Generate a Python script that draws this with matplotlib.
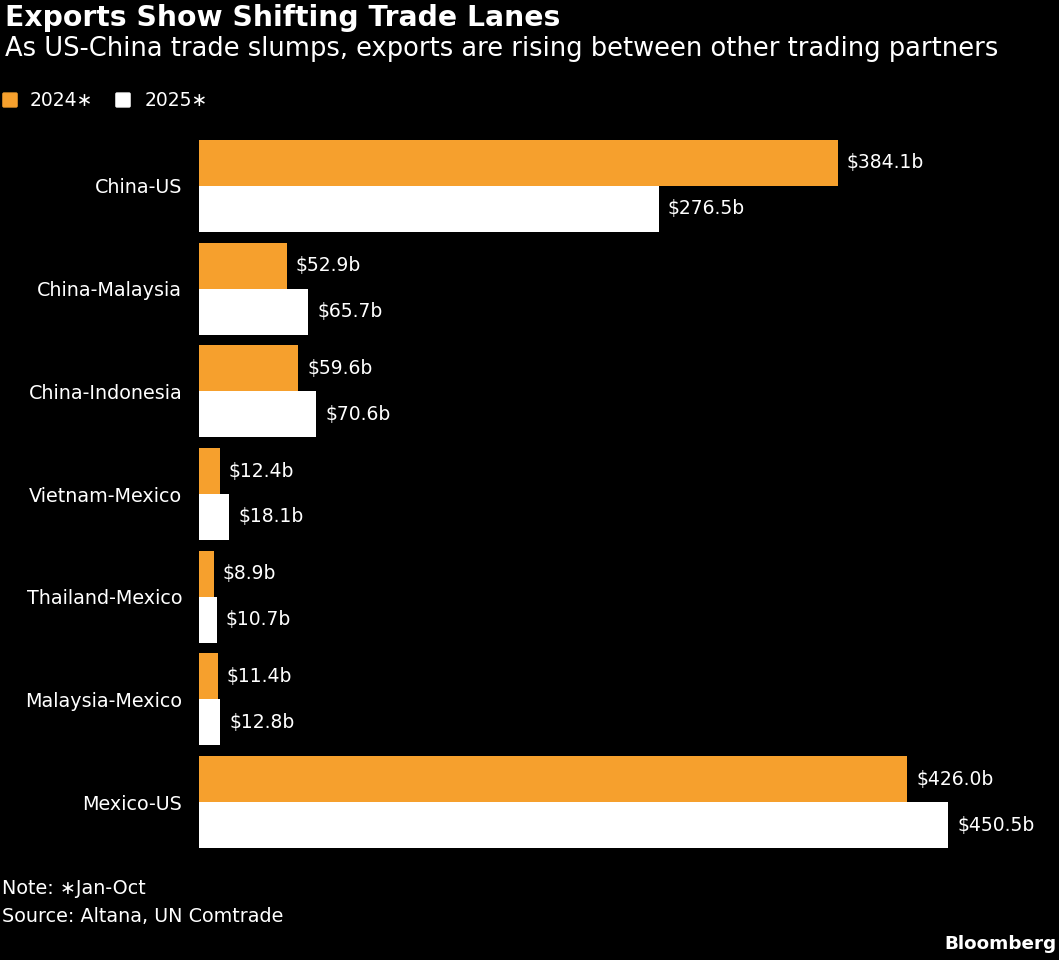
import numpy as np
import matplotlib.pyplot as plt
from matplotlib.patches import FancyBboxPatch

categories = ["China-US", "China-Malaysia", "China-Indonesia", "Vietnam-Mexico",
              "Thailand-Mexico", "Malaysia-Mexico", "Mexico-US"]
exports_2024 = [384.1, 52.9, 59.6, 12.4, 8.9, 11.4, 426.0]
exports_2025 = [276.5, 65.7, 70.6, 18.1, 10.7, 12.8, 450.5]
series_labels = ["2024\u2217", "2025\u2217"]

orange = "#f6a02d"
bg = "black"
font = "DejaVu Sans"

fig = plt.figure(figsize=(10.59, 9.6), dpi=100, facecolor=bg)
ax = fig.add_axes([199 / 1059, 1 - 848 / 960, (1040 - 199) / 1059, (848 - 140) / 960])
ax.set_facecolor(bg)

y = np.arange(len(categories))
h = 0.4475
bars1 = ax.barh(y - h / 2, exports_2024, height=h, color=orange)
bars2 = ax.barh(y + h / 2, exports_2025, height=h, color="white")

for bars, vals in ((bars1, exports_2024), (bars2, exports_2025)):
    for b, v in zip(bars, vals):
        ax.annotate(f"${v:.1f}b", (v, b.get_y() + b.get_height() / 2),
                    xytext=(6.5, 0), textcoords="offset points", va="center", ha="left",
                    color="white", fontsize=13.5, family=font)

ax.set_xlim(0, (1040 - 199) / ((948 - 199) / 450.5))
ax.set_ylim(len(categories) - 1 + h, -h)
ax.set_yticks(y)
ax.set_yticklabels(categories, color="white", fontsize=13.8, family=font)
ax.tick_params(axis="y", length=0, pad=12)
ax.set_xticks([])
for s in ax.spines.values():
    s.set_visible(False)

# titles
fig.text(5 / 1059, 1 - 4 / 960, "Exports Show Shifting Trade Lanes", color="white",
         fontsize=20.3, fontweight="bold", va="top", ha="left", family=font)
fig.text(5 / 1059, 1 - 36 / 960,
         "As US-China trade slumps, exports are rising between other trading partners",
         color="white", fontsize=18.5, va="top", ha="left", family=font)

# legend
for x0, col in ((4, orange), (117, "white")):
    fig.patches.append(FancyBboxPatch((x0 / 1059, 1 - 106 / 960), 12 / 1059, 12 / 960,
                                      boxstyle="round,pad=0.001",
                                      transform=fig.transFigure, color=col))
fig.text(30 / 1059, 1 - 100 / 960, series_labels[0], color="white", fontsize=13.5,
         va="center", ha="left", family=font)
fig.text(145 / 1059, 1 - 100 / 960, series_labels[1], color="white", fontsize=13.5,
         va="center", ha="left", family=font)

# footer
fig.text(2 / 1059, 1 - 888 / 960, "Note: \u2217Jan-Oct", color="white", fontsize=13.8,
         va="center", ha="left", family=font)
fig.text(2 / 1059, 1 - 917 / 960, "Source: Altana, UN Comtrade", color="white",
         fontsize=13.8, va="center", ha="left", family=font)
fig.text(1057 / 1059, 1 - 944 / 960, "Bloomberg", color="white", fontsize=13.2,
         fontweight="bold", va="center", ha="right", family=font)

fig.savefig("out.png", dpi=100, facecolor=bg)
